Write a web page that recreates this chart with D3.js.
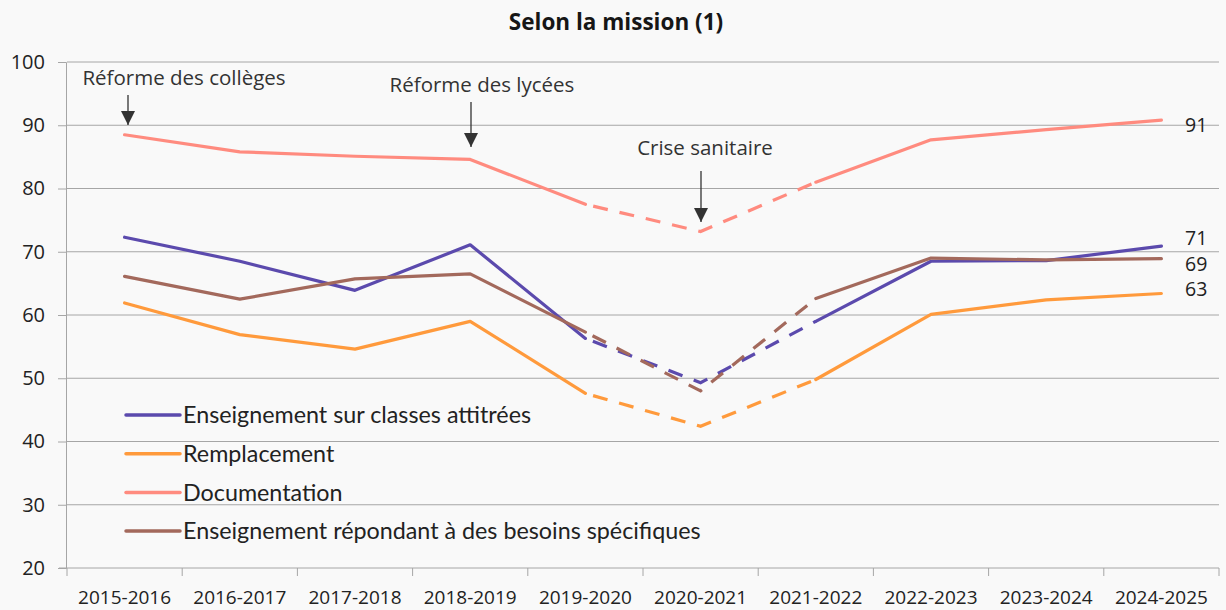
<!DOCTYPE html>
<html>
<head>
<meta charset="utf-8">
<script src="https://cdn.jsdelivr.net/npm/d3@7"></script>
<style>
    body { margin: 0; background: #f9f9f9; }
    svg { display: block; font-family: "Open Sans", Lato, sans-serif; }
</style>
</head>
<body>
<svg id="chart"></svg>
<script>
// Categories (school years)
const years = ['2015-2016', '2016-2017', '2017-2018', '2018-2019', '2019-2020',
    '2020-2021', '2021-2022', '2022-2023', '2023-2024', '2024-2025'];

// Series values (%)
const classes = [72.3, 68.5, 63.9, 71.1, 56.3, 49.3, 59.0, 68.5, 68.6, 70.9];
const remplacement = [61.9, 56.9, 54.6, 59.0, 47.6, 42.4, 49.8, 60.1, 62.4, 63.4];
const documentation = [88.5, 85.8, 85.1, 84.6, 77.5, 73.2, 81.0, 87.7, 89.3, 90.8];
const besoins = [66.1, 62.5, 65.7, 66.5, 57.3, 48.0, 62.6, 69.0, 68.7, 68.9];

const seriesNames = ['Enseignement sur classes attitrées', 'Remplacement', 'Documentation',
    'Enseignement répondant à des besoins spécifiques'];
const endLabels = ['71', '63', '91', '69'];

// Annotations
const notes = [
    { year: '2015-2016', text: 'Réforme des collèges' },
    { year: '2018-2019', text: 'Réforme des lycées' },
    { year: '2020-2021', text: 'Crise sanitaire' }
];

const yTicks = [20, 30, 40, 50, 60, 70, 80, 90, 100];

// dashed between these indices (crisis years)
const dashFrom = 4, dashTo = 6;

const colors = ['#5b4aad', '#ff9a3c', '#ff8b7f', '#a3695c'];
const allSeries = [classes, remplacement, documentation, besoins];

const width = 1226, height = 610;
const margin = { top: 62, right: 7, bottom: 42, left: 67 };

const svg = d3.select('#chart')
    .attr('width', width)
    .attr('height', height);

svg.append('rect').attr('width', width).attr('height', height).attr('fill', '#f9f9f9');

const x = d3.scaleBand()
    .domain(years)
    .range([margin.left, width - margin.right]);

const y = d3.scaleLinear()
    .domain([20, 100])
    .range([height - margin.bottom, margin.top]);

const cx = d => x(d) + x.bandwidth() / 2;

// Title
svg.append('text')
    .attr('x', 616)
    .attr('y', 30)
    .attr('text-anchor', 'middle')
    .style('font-size', '22.5px')
    .style('font-weight', 'bold')
    .attr('fill', '#161616')
    .text('Selon la mission (1)');

// Gridlines
svg.append('g')
    .selectAll('line')
    .data(yTicks.slice(1))
    .join('line')
    .attr('x1', margin.left)
    .attr('x2', width - margin.right)
    .attr('y1', d => y(d))
    .attr('y2', d => y(d))
    .attr('stroke', '#a6a6a6')
    .attr('stroke-width', 1);

// Y axis
const yAxis = svg.append('g')
    .attr('transform', `translate(${margin.left - 1},0)`)
    .call(d3.axisLeft(y).tickValues(yTicks).tickSize(8).tickPadding(13));
yAxis.select('.domain').attr('stroke', '#a6a6a6');
yAxis.selectAll('.tick line').attr('stroke', '#a6a6a6');
yAxis.selectAll('.tick text')
    .style('font-size', '20px')
    .style('font-family', '"Open Sans", sans-serif')
    .attr('fill', '#222');

// X axis
const xAxisG = svg.append('g')
    .attr('transform', `translate(0,${height - margin.bottom})`);
xAxisG.append('line')
    .attr('x1', margin.left - 8)
    .attr('x2', width - margin.right)
    .attr('stroke', '#a6a6a6');
xAxisG.selectAll('.xtick')
    .data(years.concat(['end']))
    .join('line')
    .attr('class', 'xtick')
    .attr('x1', (d, i) => i < years.length ? x(d) : x(years[years.length - 1]) + x.bandwidth())
    .attr('x2', (d, i) => i < years.length ? x(d) : x(years[years.length - 1]) + x.bandwidth())
    .attr('y1', 0)
    .attr('y2', 8)
    .attr('stroke', '#a6a6a6');
xAxisG.selectAll('.xlabel')
    .data(years)
    .join('text')
    .attr('class', 'xlabel')
    .attr('x', d => cx(d))
    .attr('y', 36)
    .attr('text-anchor', 'middle')
    .style('font-size', '19px')
    .attr('fill', '#222')
    .text(d => d);

// Lines
const line = d3.line()
    .x(d => cx(d.year))
    .y(d => y(d.value));

allSeries.forEach((vals, s) => {
    const pts = vals.map((v, i) => ({ year: years[i], value: v }));
    const g = svg.append('g');
    g.append('path')
        .datum(pts.slice(0, dashFrom + 1))
        .attr('d', line)
        .attr('fill', 'none')
        .attr('stroke', colors[s])
        .attr('stroke-width', 3.2)
        .attr('stroke-linejoin', 'round')
        .attr('stroke-linecap', 'round');
    g.append('path')
        .datum(pts.slice(dashFrom, dashTo + 1))
        .attr('d', line)
        .attr('fill', 'none')
        .attr('stroke', colors[s])
        .attr('stroke-width', 3.2)
        .attr('stroke-dasharray', '15,12')
        .attr('stroke-dashoffset', -8);
    g.append('path')
        .datum(pts.slice(dashTo))
        .attr('d', line)
        .attr('fill', 'none')
        .attr('stroke', colors[s])
        .attr('stroke-width', 3.2)
        .attr('stroke-linejoin', 'round')
        .attr('stroke-linecap', 'round');
});

// End labels
const endY = [238, 289, 125, 264];
endLabels.forEach((lbl, s) => {
    svg.append('text')
        .attr('x', 1185)
        .attr('y', endY[s])
        .attr('dy', '0.35em')
        .style('font-size', '19.5px')
        .attr('fill', '#222')
        .text(lbl);
});

// Legend
const legend = svg.append('g').attr('class', 'legend');
seriesNames.forEach((name, i) => {
    const ly = 415 + i * 38.7;
    legend.append('line')
        .attr('x1', 126).attr('x2', 180)
        .attr('y1', ly).attr('y2', ly)
        .attr('stroke', colors[i])
        .attr('stroke-width', 3.5)
        .attr('stroke-linecap', 'round');
    legend.append('text')
        .attr('x', 183)
        .attr('y', ly)
        .attr('dy', '0.35em')
        .style('font-size', '23.3px')
        .style('font-family', 'Lato, sans-serif')
        .attr('fill', '#222')
        .text(name);
});

// Annotations with arrows
const noteLayout = [
    { tx: 184, ty: 85, ax: 128, y1: 95, y2: 125 },
    { tx: 482, ty: 92, ax: 471, y1: 102, y2: 147 },
    { tx: 705, ty: 155, ax: 701, y1: 171, y2: 222 }
];
notes.forEach((n, i) => {
    const l = noteLayout[i];
    svg.append('text')
        .attr('x', l.tx)
        .attr('y', l.ty)
        .attr('text-anchor', 'middle')
        .style('font-size', '20.5px')
        .attr('fill', '#333')
        .text(n.text);
    svg.append('line')
        .attr('x1', l.ax).attr('x2', l.ax)
        .attr('y1', l.y1).attr('y2', l.y2)
        .attr('stroke', '#333')
        .attr('stroke-width', 1.3);
    svg.append('path')
        .attr('d', `M${l.ax - 7},${l.y2 - 14} L${l.ax + 7},${l.y2 - 14} L${l.ax},${l.y2} Z`)
        .attr('fill', '#333');
});
</script>
</body>
</html>
